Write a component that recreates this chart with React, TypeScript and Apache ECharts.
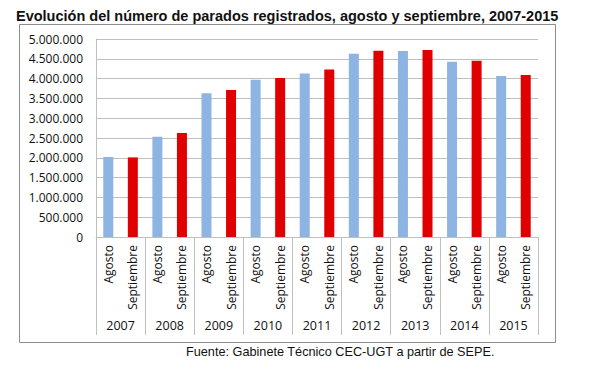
import React, { useEffect, useRef } from "react";
import * as echarts from "echarts";

const titleText = "Evolución del número de parados registrados, agosto y septiembre, 2007-2015";
const sourceText = "Fuente: Gabinete Técnico CEC-UGT a partir de SEPE.";
const years = ["2007", "2008", "2009", "2010", "2011", "2012", "2013", "2014", "2015"];
const monthNames = ["Agosto", "Septiembre"];
const agosto = [2020000, 2530000, 3629000, 3970000, 4131000, 4626000, 4699000, 4428000, 4068000];
const septiembre = [2010000, 2625000, 3709000, 4018000, 4227000, 4705000, 4724000, 4448000, 4094000];
const yTicks = { min: 0, max: 5000000, interval: 500000 };

const BLUE = "#8DB4E2";
const RED = "#E00000";

const fmt = (v: number) => String(v).replace(/\B(?=(\d{3})+(?!\d))/g, ".");

export default function App() {
  const ref = useRef<HTMLDivElement>(null);
  useEffect(() => {
    document.body.style.margin = "0";
    const chart = echarts.init(ref.current!, null, { renderer: "svg" });
    const cats: string[] = [];
    const data: any[] = [];
    years.forEach((y, i) => {
      cats.push(monthNames[0] + "\u200B".repeat(i));
      data.push({ value: agosto[i], itemStyle: { color: BLUE } });
      cats.push(monthNames[1] + "\u200B".repeat(i));
      data.push({ value: septiembre[i], itemStyle: { color: RED } });
    });
    chart.setOption({
      animation: false,
      backgroundColor: "#fff",
      title: {
        text: titleText,
        left: 11,
        top: 3,
        textStyle: { fontFamily: "Liberation Sans", fontWeight: "bold", fontSize: 14.5, color: "#111" },
      },
      graphic: [
        {
          type: "rect",
          shape: { x: 19.5, y: 24.5, width: 536, height: 318 },
          style: { fill: "none", stroke: "#8C8C8C", lineWidth: 1 },
          z: -1,
        },
        {
          type: "text",
          left: 186,
          top: 345,
          style: { text: sourceText, font: "12.7px 'Liberation Sans'", fill: "#111" },
        },
      ],
      grid: { left: 96, right: 62, top: 39, bottom: 135 },
      xAxis: [
        {
          type: "category",
          data: cats,
          axisLine: { show: true, lineStyle: { color: "#BFBFBF" } },
          axisTick: { show: false },
          axisLabel: {
            interval: 0,
            rotate: 90,
            margin: 8,
            fontFamily: "Open Sans",
            fontSize: 12,
            color: "#111",
            formatter: (v: string) => v.replace(/\u200B/g, ""),
          },
        },
        {
          type: "category",
          data: years,
          position: "bottom",
          axisLine: { show: false },
          axisTick: { show: true, length: 98, lineStyle: { color: "#BFBFBF" } },
          axisLabel: { interval: 0, margin: 82, fontFamily: "Open Sans", fontSize: 12.5, color: "#111" },
        },
      ],
      yAxis: {
        type: "value",
        min: yTicks.min,
        max: yTicks.max,
        interval: yTicks.interval,
        axisLine: { show: true, lineStyle: { color: "#BFBFBF" } },
        axisTick: { show: false },
        splitLine: { lineStyle: { color: "#BFBFBF" } },
        axisLabel: { margin: 13, fontFamily: "Open Sans", fontSize: 12, color: "#111", formatter: fmt },
      },
      series: [
        {
          type: "bar",
          xAxisIndex: 0,
          data,
          barWidth: 10,
        },
      ],
    });
    return () => chart.dispose();
  }, []);
  return <div ref={ref} style={{ width: 600, height: 372 }} />;
}
